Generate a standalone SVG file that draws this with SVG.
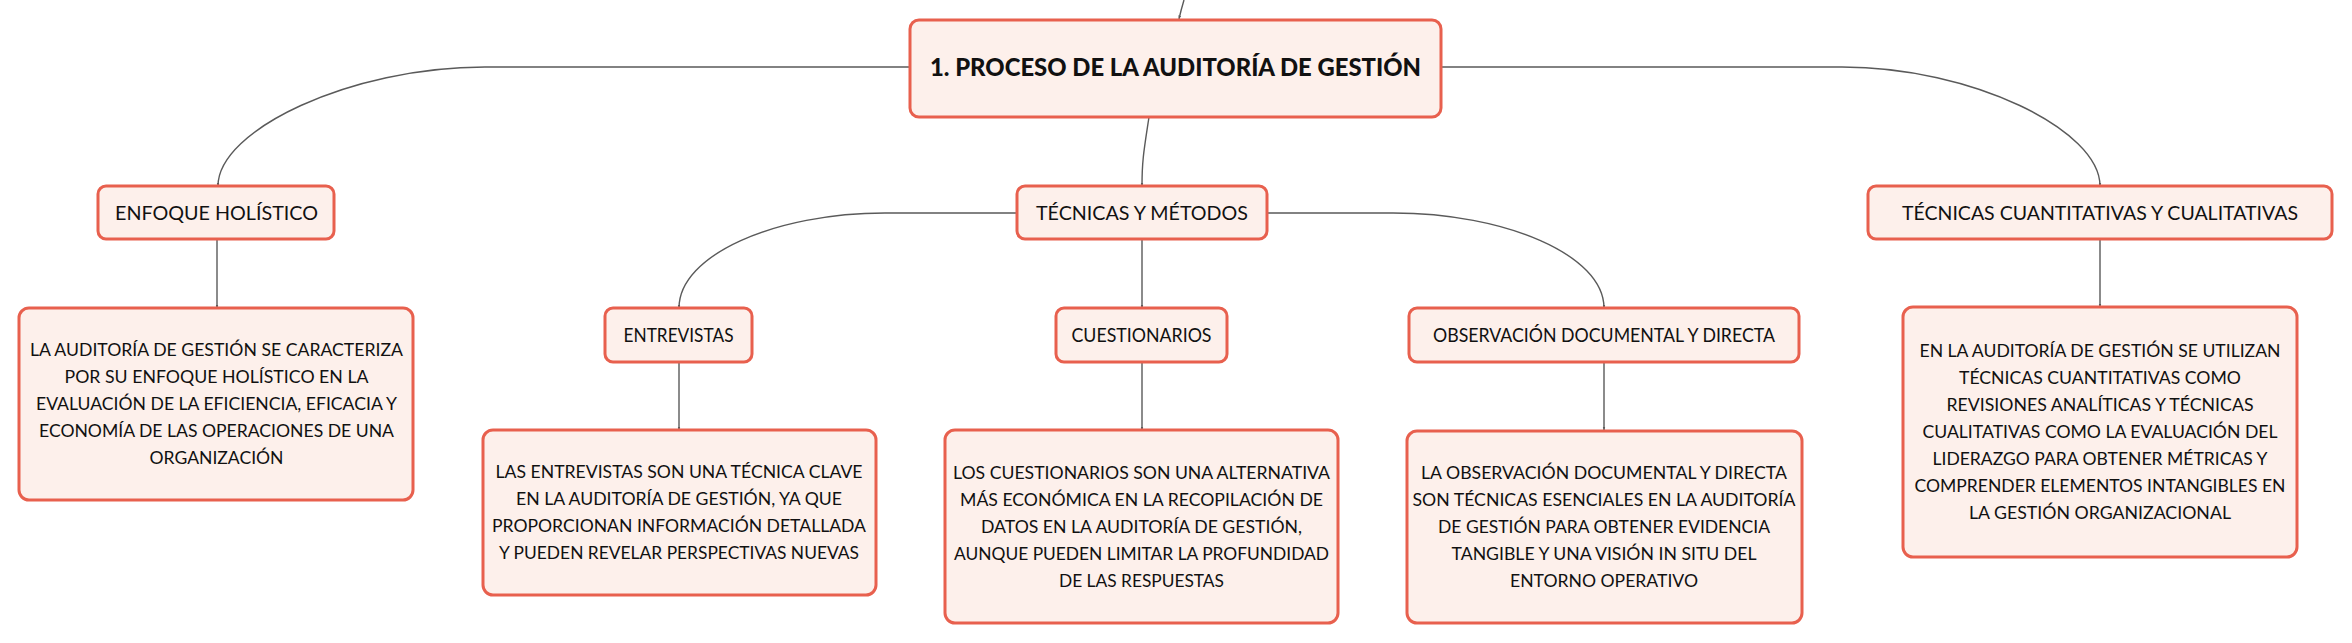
<svg xmlns="http://www.w3.org/2000/svg" width="2352" height="643" viewBox="0 0 2352 643">
<style>
.box{fill:#FDF0EB;stroke:#E8604E;stroke-width:3}
.con{fill:none;stroke:#5a5a5a;stroke-width:1.4}
text{font-family:Lato,"Liberation Sans",sans-serif;fill:#111;text-anchor:middle}
.root{font-size:24px;font-weight:900}
.l1{font-size:20px}
.l2{font-size:18.5px}
.d{font-size:17.5px}
</style>
<defs>
<marker id="ah" markerUnits="userSpaceOnUse" markerWidth="5" markerHeight="5" refX="3.5" refY="2" orient="auto">
<path d="M0,0.6 L3.5,2 L0,3.4 z" fill="#5a5a5a"/>
</marker>
</defs>
<rect width="2352" height="643" fill="#fff"/>
<g id="connectors">
<path class="con" marker-end="url(#ah)" d="M1184 0 Q1181 10 1179 19"/>
<path class="con" marker-end="url(#ah)" d="M910 67 H485 C350 67 218 130 218 186"/>
<path class="con" marker-end="url(#ah)" d="M1441 67 H1842 C1972 67 2100 130 2100 186"/>
<path class="con" marker-end="url(#ah)" d="M1149 117 C1144 150 1142 160 1142 186"/>
<path class="con" marker-end="url(#ah)" d="M1017 213 H885 C775 213 679 255 679 308"/>
<path class="con" marker-end="url(#ah)" d="M1142 239 V308"/>
<path class="con" marker-end="url(#ah)" d="M1267 213 H1393 C1505 213 1604 255 1604 308"/>
<path class="con" marker-end="url(#ah)" d="M217 239 V308"/>
<path class="con" marker-end="url(#ah)" d="M679 362 V430"/>
<path class="con" marker-end="url(#ah)" d="M1142 362 V430"/>
<path class="con" marker-end="url(#ah)" d="M1604 362 V430"/>
<path class="con" marker-end="url(#ah)" d="M2100 239 V307"/>
</g>
<g id="root">
<rect class="box" x="910" y="20" width="531" height="97" rx="9"/>
<text class="root" x="1175.5" y="75.5" textLength="491" lengthAdjust="spacingAndGlyphs">1. PROCESO DE LA AUDITORÍA DE GESTIÓN</text>
</g>
<g id="enfoque">
<rect class="box" x="98" y="186" width="236" height="53" rx="8"/>
<text class="l1" x="216.5" y="220" textLength="203" lengthAdjust="spacingAndGlyphs">ENFOQUE HOLÍSTICO</text>
</g>
<g id="enfoque-detalle">
<rect class="box" x="19" y="308" width="394" height="192" rx="10"/>
<text class="d" x="216.5" y="356.3" textLength="373" lengthAdjust="spacingAndGlyphs">LA AUDITORÍA DE GESTIÓN SE CARACTERIZA</text>
<text class="d" x="216.5" y="383.3" textLength="304" lengthAdjust="spacingAndGlyphs">POR SU ENFOQUE HOLÍSTICO EN LA</text>
<text class="d" x="216.5" y="410.3" textLength="361" lengthAdjust="spacingAndGlyphs">EVALUACIÓN DE LA EFICIENCIA, EFICACIA Y</text>
<text class="d" x="216.5" y="437.3" textLength="355" lengthAdjust="spacingAndGlyphs">ECONOMÍA DE LAS OPERACIONES DE UNA</text>
<text class="d" x="216.5" y="464.3" textLength="134" lengthAdjust="spacingAndGlyphs">ORGANIZACIÓN</text>
</g>
<g id="tecnicas">
<rect class="box" x="1017" y="186" width="250" height="53" rx="8"/>
<text class="l1" x="1142" y="220" textLength="212" lengthAdjust="spacingAndGlyphs">TÉCNICAS Y MÉTODOS</text>
</g>
<g id="entrevistas">
<rect class="box" x="605" y="308" width="147" height="54" rx="8"/>
<text class="l2" x="678.5" y="341.6" textLength="110" lengthAdjust="spacingAndGlyphs">ENTREVISTAS</text>
</g>
<g id="entrevistas-detalle">
<rect class="box" x="483" y="430" width="393" height="165" rx="10"/>
<text class="d" x="679" y="478.3" textLength="367" lengthAdjust="spacingAndGlyphs">LAS ENTREVISTAS SON UNA TÉCNICA CLAVE</text>
<text class="d" x="679" y="505.3" textLength="326" lengthAdjust="spacingAndGlyphs">EN LA AUDITORÍA DE GESTIÓN, YA QUE</text>
<text class="d" x="679" y="532.3" textLength="374" lengthAdjust="spacingAndGlyphs">PROPORCIONAN INFORMACIÓN DETALLADA</text>
<text class="d" x="679" y="559.3" textLength="360" lengthAdjust="spacingAndGlyphs">Y PUEDEN REVELAR PERSPECTIVAS NUEVAS</text>
</g>
<g id="cuestionarios">
<rect class="box" x="1056" y="308" width="171" height="54" rx="8"/>
<text class="l2" x="1141.5" y="341.6" textLength="140" lengthAdjust="spacingAndGlyphs">CUESTIONARIOS</text>
</g>
<g id="cuestionarios-detalle">
<rect class="box" x="945" y="430" width="393" height="193" rx="10"/>
<text class="d" x="1141.5" y="479.3" textLength="377" lengthAdjust="spacingAndGlyphs">LOS CUESTIONARIOS SON UNA ALTERNATIVA</text>
<text class="d" x="1141.5" y="506.3" textLength="363" lengthAdjust="spacingAndGlyphs">MÁS ECONÓMICA EN LA RECOPILACIÓN DE</text>
<text class="d" x="1141.5" y="533.3" textLength="321" lengthAdjust="spacingAndGlyphs">DATOS EN LA AUDITORÍA DE GESTIÓN,</text>
<text class="d" x="1141.5" y="560.3" textLength="375" lengthAdjust="spacingAndGlyphs">AUNQUE PUEDEN LIMITAR LA PROFUNDIDAD</text>
<text class="d" x="1141.5" y="587.3" textLength="165" lengthAdjust="spacingAndGlyphs">DE LAS RESPUESTAS</text>
</g>
<g id="observacion">
<rect class="box" x="1409" y="308" width="390" height="54" rx="8"/>
<text class="l2" x="1604" y="341.6" textLength="342" lengthAdjust="spacingAndGlyphs">OBSERVACIÓN DOCUMENTAL Y DIRECTA</text>
</g>
<g id="observacion-detalle">
<rect class="box" x="1407" y="431" width="395" height="192" rx="10"/>
<text class="d" x="1604" y="479.3" textLength="366" lengthAdjust="spacingAndGlyphs">LA OBSERVACIÓN DOCUMENTAL Y DIRECTA</text>
<text class="d" x="1604" y="506.3" textLength="383" lengthAdjust="spacingAndGlyphs">SON TÉCNICAS ESENCIALES EN LA AUDITORÍA</text>
<text class="d" x="1604" y="533.3" textLength="332" lengthAdjust="spacingAndGlyphs">DE GESTIÓN PARA OBTENER EVIDENCIA</text>
<text class="d" x="1604" y="560.3" textLength="305" lengthAdjust="spacingAndGlyphs">TANGIBLE Y UNA VISIÓN IN SITU DEL</text>
<text class="d" x="1604" y="587.3" textLength="188" lengthAdjust="spacingAndGlyphs">ENTORNO OPERATIVO</text>
</g>
<g id="cuantitativas">
<rect class="box" x="1868" y="186" width="464" height="53" rx="8"/>
<text class="l1" x="2100" y="220" textLength="396" lengthAdjust="spacingAndGlyphs">TÉCNICAS CUANTITATIVAS Y CUALITATIVAS</text>
</g>
<g id="cuantitativas-detalle">
<rect class="box" x="1903" y="307" width="394" height="250" rx="10"/>
<text class="d" x="2100" y="357.3" textLength="361" lengthAdjust="spacingAndGlyphs">EN LA AUDITORÍA DE GESTIÓN SE UTILIZAN</text>
<text class="d" x="2100" y="384.3" textLength="282" lengthAdjust="spacingAndGlyphs">TÉCNICAS CUANTITATIVAS COMO</text>
<text class="d" x="2100" y="411.3" textLength="307" lengthAdjust="spacingAndGlyphs">REVISIONES ANALÍTICAS Y TÉCNICAS</text>
<text class="d" x="2100" y="438.3" textLength="355" lengthAdjust="spacingAndGlyphs">CUALITATIVAS COMO LA EVALUACIÓN DEL</text>
<text class="d" x="2100" y="465.3" textLength="335" lengthAdjust="spacingAndGlyphs">LIDERAZGO PARA OBTENER MÉTRICAS Y</text>
<text class="d" x="2100" y="492.3" textLength="371" lengthAdjust="spacingAndGlyphs">COMPRENDER ELEMENTOS INTANGIBLES EN</text>
<text class="d" x="2100" y="519.3" textLength="262" lengthAdjust="spacingAndGlyphs">LA GESTIÓN ORGANIZACIONAL</text>
</g>
</svg>
